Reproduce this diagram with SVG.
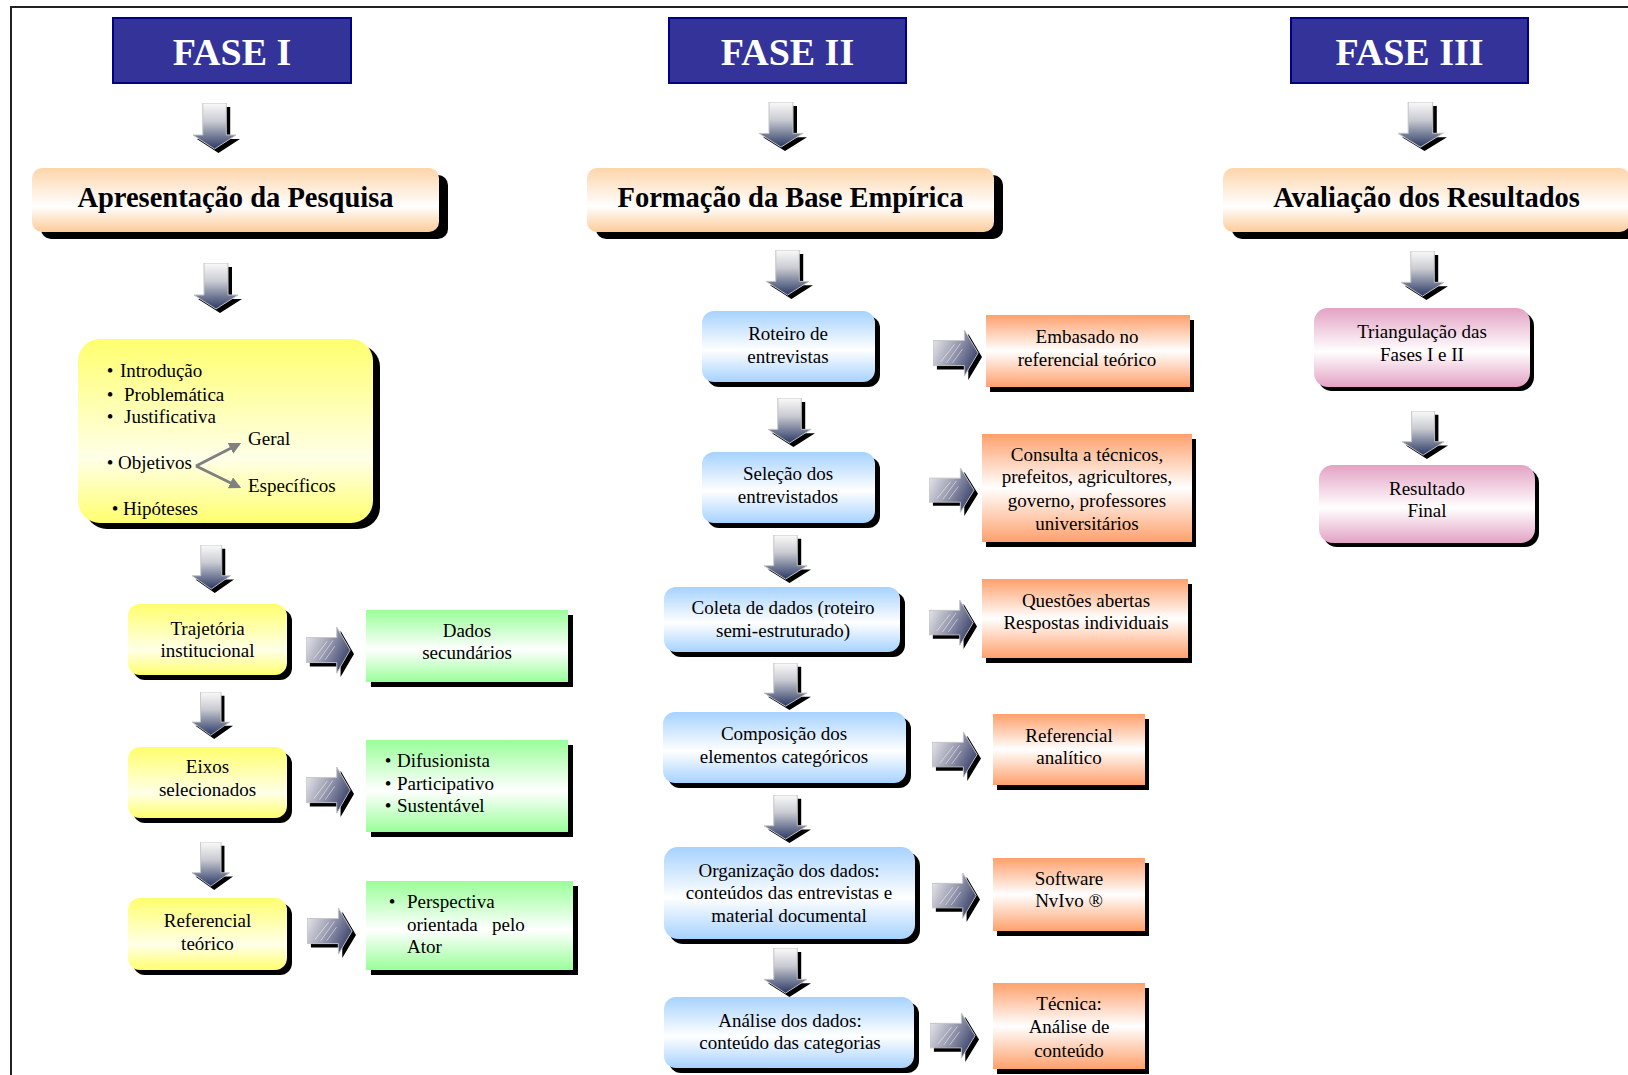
<svg xmlns="http://www.w3.org/2000/svg" width="1628" height="1075" viewBox="0 0 1628 1075">
<style>
text{font-family:"Liberation Serif","Times New Roman",serif;fill:#000}
.fase{fill:#333399;stroke:#000080;stroke-width:2}
.fasetxt{font-size:38px;font-weight:bold;fill:#fff;text-anchor:middle}
.title{font-size:28.5px;font-weight:bold;text-anchor:middle}
.sh{fill:#000}
.t1{font-size:19px}
.t2{font-size:19px;text-anchor:middle}
.c{text-anchor:middle}
.peach{fill:url(#gPeach)}
.yel{fill:url(#gYel)}
.grn{fill:url(#gGrn)}
.blu{fill:url(#gBlu)}
.org{fill:url(#gOrg)}
.pnk{fill:url(#gPnk)}
.garr{stroke:#808080;stroke-width:3;fill:none}
</style>
<defs>
<linearGradient id="gPeach" x1="0" y1="0" x2="0" y2="1"><stop offset="0" stop-color="#fdd5aa"/><stop offset="0.6" stop-color="#ffffff"/><stop offset="1" stop-color="#fccb98"/></linearGradient>
<linearGradient id="gYel" x1="0" y1="0" x2="0" y2="1"><stop offset="0" stop-color="#ffff6e"/><stop offset="0.65" stop-color="#ffffe8"/><stop offset="1" stop-color="#ffff6e"/></linearGradient>
<linearGradient id="gGrn" x1="0" y1="0" x2="0" y2="1"><stop offset="0" stop-color="#99ff99"/><stop offset="0.55" stop-color="#ffffff"/><stop offset="1" stop-color="#99ff99"/></linearGradient>
<linearGradient id="gBlu" x1="0" y1="0" x2="0" y2="1"><stop offset="0" stop-color="#a6d2ff"/><stop offset="0.55" stop-color="#ffffff"/><stop offset="1" stop-color="#a6d2ff"/></linearGradient>
<linearGradient id="gOrg" x1="0" y1="0" x2="0" y2="1"><stop offset="0" stop-color="#ffa06c"/><stop offset="0.5" stop-color="#ffffff"/><stop offset="1" stop-color="#ffa06c"/></linearGradient>
<linearGradient id="gPnk" x1="0" y1="0" x2="0" y2="1"><stop offset="0" stop-color="#e3a2c4"/><stop offset="0.55" stop-color="#ffffff"/><stop offset="1" stop-color="#e3a2c4"/></linearGradient>
<linearGradient id="gDown" x1="0" y1="0" x2="0" y2="1"><stop offset="0" stop-color="#fafafa"/><stop offset="0.4" stop-color="#c9cbd2"/><stop offset="1" stop-color="#2a3864"/></linearGradient>
<linearGradient id="gRight" x1="0" y1="0" x2="1" y2="0.5"><stop offset="0" stop-color="#f2f2f4"/><stop offset="0.5" stop-color="#a4a6b8"/><stop offset="1" stop-color="#454c74"/></linearGradient>
<symbol id="darr" viewBox="0 0 48 50" preserveAspectRatio="none">
<path d="M14 4H38V36H48L26 50L4 36H14Z" fill="#000"/>
<path d="M10 0H34V32H44L22 46L0 32H10Z" fill="url(#gDown)" stroke="#c4c4c4" stroke-width="1"/>
</symbol>
<symbol id="rarr" viewBox="0 0 50 52" preserveAspectRatio="none">
<path d="M4 15H36V4L50 28L36 52V41H4Z" fill="#000"/>
<path d="M0 11H32V0L46 24L32 48V37H0Z" fill="url(#gRight)" stroke="#c4c4c4" stroke-width="1"/>
<path d="M8 33L22 15M14 34L28 14M20 34L30 20" stroke="#ffffff" stroke-opacity="0.5" stroke-width="1"/>
</symbol>
<marker id="mg" viewBox="0 0 10 10" refX="8" refY="5" markerWidth="4" markerHeight="4" orient="auto" markerUnits="strokeWidth"><path d="M0 0L10 5L0 10Z" fill="#808080"/></marker>
</defs>
<rect x="0" y="0" width="1628" height="1075" fill="#fff"/>
<path d="M11 1075V7H1628" fill="none" stroke="#222" stroke-width="2"/>

<g id="fase1"><rect class="fase" x="113" y="18" width="238" height="65"/><text class="fasetxt" x="232" y="65">FASE I</text></g>
<g id="fase2"><rect class="fase" x="669" y="18" width="237" height="65"/><text class="fasetxt" x="787.5" y="65">FASE II</text></g>
<g id="fase3"><rect class="fase" x="1291" y="18" width="237" height="65"/><text class="fasetxt" x="1409.5" y="65">FASE III</text></g>

<g id="apresentacao"><rect class="sh" x="41" y="175" width="407" height="64" rx="10"/><rect class="peach" x="32" y="168" width="407" height="64" rx="10"/><text class="title" x="235.5" y="207">Apresentação da Pesquisa</text></g>
<g id="formacao"><rect class="sh" x="596" y="175" width="407" height="64" rx="10"/><rect class="peach" x="587" y="168" width="407" height="64" rx="10"/><text class="title" x="790.5" y="207">Formação da Base Empírica</text></g>
<g id="avaliacao"><rect class="sh" x="1232" y="175" width="407" height="64" rx="10"/><rect class="peach" x="1223" y="168" width="407" height="64" rx="10"/><text class="title" x="1426.5" y="207">Avaliação dos Resultados</text></g>

<g id="introducao">
<rect class="sh" x="85" y="345" width="295" height="184" rx="22"/>
<rect class="yel" x="78" y="339" width="295" height="184" rx="22"/>
<g class="t1">
<text class="c" x="110" y="377">•</text><text x="120" y="377">Introdução</text>
<text class="c" x="110" y="401">•</text><text x="124" y="401">Problemática</text>
<text class="c" x="110" y="423">•</text><text x="124" y="423">Justificativa</text>
<text x="248" y="445">Geral</text>
<text class="c" x="110" y="469">•</text><text x="118" y="469">Objetivos</text>
<text x="248" y="492">Específicos</text>
<text class="c" x="115" y="515">•</text><text x="123" y="515">Hipóteses</text>
</g>
</g>

<g id="trajetoria"><rect class="sh" x="133" y="609" width="159" height="71" rx="12"/><rect class="yel" x="128" y="604" width="159" height="71" rx="12"/><text class="t1 c" x="207.5" y="635">Trajetória</text><text class="t1 c" x="207.5" y="657">institucional</text></g>
<g id="eixos"><rect class="sh" x="133" y="752" width="159" height="71" rx="12"/><rect class="yel" x="128" y="747" width="159" height="71" rx="12"/><text class="t1 c" x="207.5" y="773">Eixos</text><text class="t1 c" x="207.5" y="796">selecionados</text></g>
<g id="referencial-teorico"><rect class="sh" x="133" y="903" width="159" height="72" rx="12"/><rect class="yel" x="128" y="898" width="159" height="72" rx="12"/><text class="t1 c" x="207.5" y="927">Referencial</text><text class="t1 c" x="207.5" y="950">teórico</text></g>

<g id="dados-secundarios"><rect class="sh" x="371" y="615" width="202" height="72"/><rect class="grn" x="366" y="610" width="202" height="72"/><text class="t1 c" x="467" y="637">Dados</text><text class="t1 c" x="467" y="659">secundários</text></g>
<g id="eixos-lista"><rect class="sh" x="371" y="745" width="202" height="92"/><rect class="grn" x="366" y="740" width="202" height="92"/>
<g class="t1"><text class="c" x="388" y="767">•</text><text x="397" y="767">Difusionista</text><text class="c" x="388" y="790">•</text><text x="397" y="790">Participativo</text><text class="c" x="388" y="812">•</text><text x="397" y="812">Sustentável</text></g></g>
<g id="perspectiva"><rect class="sh" x="371" y="886" width="207" height="89"/><rect class="grn" x="366" y="881" width="207" height="89"/>
<g class="t1"><text class="c" x="392" y="908">•</text><text x="407" y="908">Perspectiva</text><text x="407" y="931">orientada</text><text x="492" y="931">pelo</text><text x="407" y="953">Ator</text></g></g>

<g id="roteiro"><rect class="sh" x="707" y="316" width="173" height="71" rx="12"/><rect class="blu" x="702" y="311" width="173" height="71" rx="12"/><text class="t2" x="788" y="340">Roteiro de</text><text class="t2" x="788" y="363">entrevistas</text></g>
<g id="selecao"><rect class="sh" x="707" y="457" width="173" height="71" rx="12"/><rect class="blu" x="702" y="452" width="173" height="71" rx="12"/><text class="t2" x="788" y="480">Seleção dos</text><text class="t2" x="788" y="503">entrevistados</text></g>
<g id="coleta"><rect class="sh" x="669" y="592" width="236" height="65" rx="12"/><rect class="blu" x="664" y="587" width="236" height="65" rx="12"/><text class="t2" x="783" y="614">Coleta de dados (roteiro</text><text class="t2" x="783" y="637">semi-estruturado)</text></g>
<g id="composicao"><rect class="sh" x="668" y="717" width="243" height="71" rx="12"/><rect class="blu" x="663" y="712" width="243" height="71" rx="12"/><text class="t2" x="784" y="740">Composição dos</text><text class="t2" x="784" y="763">elementos categóricos</text></g>
<g id="organizacao"><rect class="sh" x="669" y="852" width="251" height="92" rx="14"/><rect class="blu" x="664" y="847" width="251" height="92" rx="14"/><text class="t2" x="789" y="877">Organização dos dados:</text><text class="t2" x="789" y="899">conteúdos das entrevistas e</text><text class="t2" x="789" y="922">material documental</text></g>
<g id="analise"><rect class="sh" x="669" y="1002" width="250" height="71" rx="12"/><rect class="blu" x="664" y="997" width="250" height="71" rx="12"/><text class="t2" x="790" y="1027">Análise dos dados:</text><text class="t2" x="790" y="1049">conteúdo das categorias</text></g>

<g id="embasado"><rect class="sh" x="990" y="320" width="204" height="72"/><rect class="org" x="986" y="315" width="204" height="72"/><text class="t2" x="1087" y="343">Embasado no</text><text class="t2" x="1087" y="366">referencial teórico</text></g>
<g id="consulta"><rect class="sh" x="986" y="439" width="210" height="108"/><rect class="org" x="982" y="434" width="210" height="108"/><text class="t2" x="1087" y="461">Consulta a técnicos,</text><text class="t2" x="1087" y="483">prefeitos, agricultores,</text><text class="t2" x="1087" y="507">governo, professores</text><text class="t2" x="1087" y="530">universitários</text></g>
<g id="questoes"><rect class="sh" x="986" y="584" width="206" height="79"/><rect class="org" x="982" y="579" width="206" height="79"/><text class="t2" x="1086" y="607">Questões abertas</text><text class="t2" x="1086" y="629">Respostas individuais</text></g>
<g id="referencial-analitico"><rect class="sh" x="997" y="719" width="152" height="71"/><rect class="org" x="993" y="714" width="152" height="71"/><text class="t2" x="1069" y="742">Referencial</text><text class="t2" x="1069" y="764">analítico</text></g>
<g id="software"><rect class="sh" x="997" y="863" width="152" height="73"/><rect class="org" x="993" y="858" width="152" height="73"/><text class="t2" x="1069" y="885">Software</text><text class="t2" x="1069" y="907">NvIvo ®</text></g>
<g id="tecnica"><rect class="sh" x="997" y="988" width="152" height="86"/><rect class="org" x="993" y="983" width="152" height="86"/><text class="t2" x="1069" y="1010">Técnica:</text><text class="t2" x="1069" y="1033">Análise de</text><text class="t2" x="1069" y="1057">conteúdo</text></g>

<g id="triangulacao"><rect class="sh" x="1318" y="312" width="216" height="79" rx="14"/><rect class="pnk" x="1314" y="308" width="216" height="79" rx="14"/><text class="t2" x="1422" y="338">Triangulação das</text><text class="t2" x="1422" y="361">Fases I e II</text></g>
<g id="resultado"><rect class="sh" x="1323" y="469" width="216" height="78" rx="14"/><rect class="pnk" x="1319" y="465" width="216" height="78" rx="14"/><text class="t2" x="1427" y="495">Resultado</text><text class="t2" x="1427" y="517">Final</text></g>

<g id="connectors">
<use href="#darr" x="193" y="103" width="47" height="50"/>
<use href="#darr" x="194" y="263" width="48" height="50"/>
<use href="#darr" x="192" y="545" width="42" height="48"/>
<use href="#darr" x="192" y="692" width="41" height="47"/>
<use href="#darr" x="192" y="842" width="41" height="48"/>
<use href="#darr" x="759" y="102" width="48" height="49"/>
<use href="#darr" x="766" y="250" width="47" height="49"/>
<use href="#darr" x="768" y="398" width="47" height="49"/>
<use href="#darr" x="764" y="535" width="47" height="48"/>
<use href="#darr" x="764" y="663" width="47" height="47"/>
<use href="#darr" x="764" y="795" width="47" height="48"/>
<use href="#darr" x="764" y="948" width="47" height="49"/>
<use href="#darr" x="1398" y="102" width="49" height="49"/>
<use href="#darr" x="1401" y="251" width="47" height="49"/>
<use href="#darr" x="1402" y="411" width="46" height="48"/>
<use href="#rarr" x="306" y="627" width="48" height="50"/>
<use href="#rarr" x="306" y="767" width="48" height="50"/>
<use href="#rarr" x="307" y="908" width="49" height="50"/>
<use href="#rarr" x="933" y="330" width="49" height="50"/>
<use href="#rarr" x="929" y="468" width="49" height="48"/>
<use href="#rarr" x="929" y="600" width="48" height="49"/>
<use href="#rarr" x="932" y="732" width="49" height="49"/>
<use href="#rarr" x="932" y="873" width="48" height="49"/>
<use href="#rarr" x="930" y="1013" width="49" height="49"/>
<path class="garr" d="M196 466L239 444" marker-end="url(#mg)"/>
<path class="garr" d="M196 466L239 487" marker-end="url(#mg)"/>
</g>
</svg>
